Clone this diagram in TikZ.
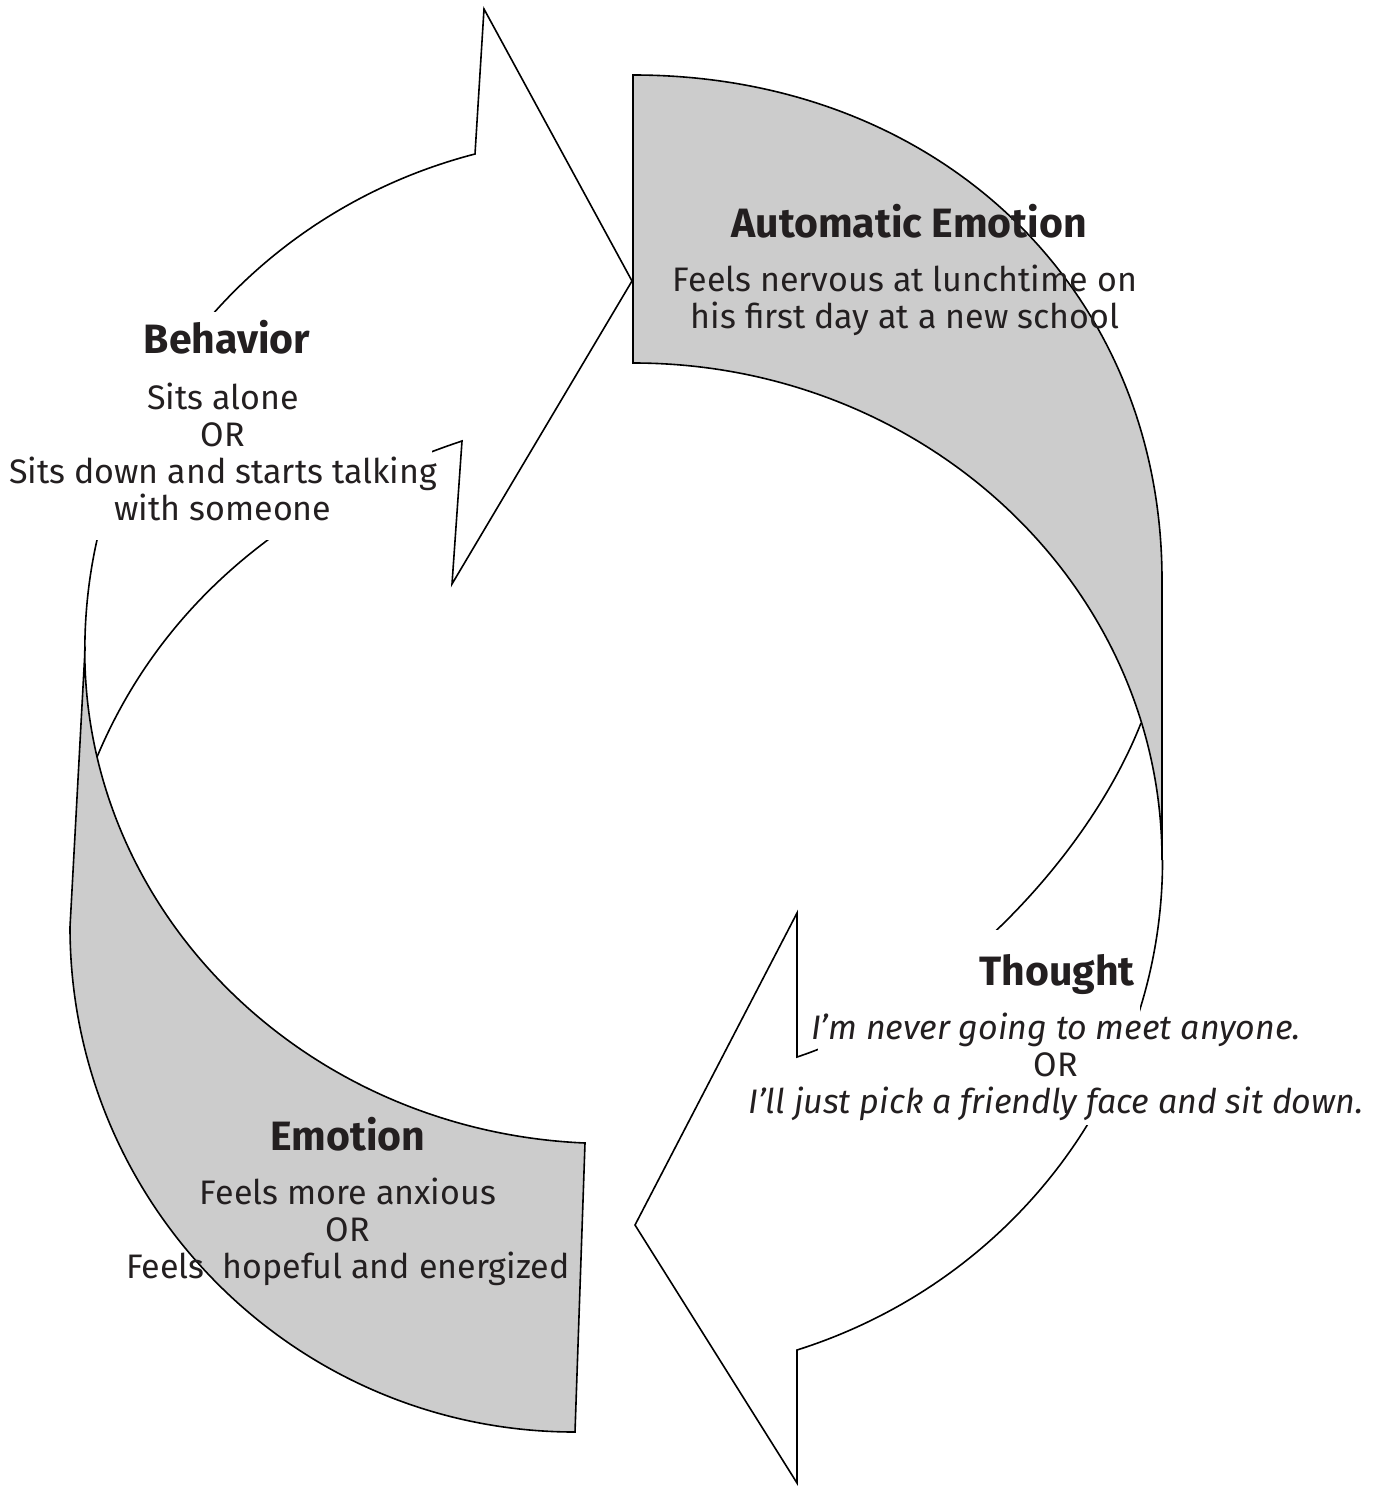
\documentclass[tikz,border=0pt]{standalone}
\usepackage{fontspec}
\setmainfont{Fira Sans}
\definecolor{ribbongray}{HTML}{CCCCCC}
\definecolor{inkblack}{HTML}{231F20}

\begin{document}
\begin{tikzpicture}[x=0.5pt,y=-0.5pt,line width=0.8pt,
    backface/.style={fill=ribbongray,draw=black},
    rim/.style={draw=black},
    cover/.style={fill=white,inner sep=0pt},
    heading/.style={font=\fontsize{20.5}{24}\selectfont\bfseries,text=inkblack,inner sep=0pt,anchor=base},
    body/.style={font=\fontsize{17}{18.5}\selectfont,text=inkblack,align=center,inner sep=0pt}]
    \useasboundingbox (0,0) rectangle (1384,1487);

    % back faces of the two ribbons
    \draw[backface] (633,75) .. controls (940,75) and (1162,290) .. (1162,580) -- (1162,860)
        arc[start angle=0,end angle=-90,x radius=529,y radius=497] -- cycle;
    \draw[backface] (85,650) -- (70,927) arc[start angle=180,end angle=90,radius=505]
        -- (585,1143) arc[start angle=92.6,end angle=180,x radius=524,y radius=493] -- cycle;

    % front faces with their heads
    \draw[rim] (1141,723) .. controls (1086,863) and (940,1010) .. (797,1057) -- (797,913)
        -- (635,1225) -- (797,1483) -- (797,1350) arc[start angle=72,end angle=0,x radius=529,y radius=515];
    \draw[rim] (97,757) .. controls (165,595) and (300,495) .. (462,441) -- (452,584)
        -- (632,281) -- (484,9) -- (475,154) arc[start angle=255.2,end angle=180,x radius=524,y radius=513];

    % text boxes
    \node[cover,minimum width=168pt,minimum height=114pt] (behaviorbox) at (264,426) {};
    \node[cover,minimum width=161pt,minimum height=97.5pt] (thoughtbox) at (979,1027) {};

    \node[heading] (autotitle) at (909,238) {Automatic Emotion};
    \node[body] (autotext) at (905,300) {Feels nervous at lunchtime on\\his first day at a new school};

    \node[heading] (thoughttitle) at (1057,985) {Thought};
    \node[body] (thoughttext) at (1056,1067) {\itshape I’m never going to meet anyone.\\OR\\\itshape I’ll just pick a friendly face and sit down.};

    \node[heading] (emotiontitle) at (348,1150) {Emotion};
    \node[body] (emotiontext) at (348,1232) {Feels more anxious\\OR\\Feels~ hopeful and energized};

    \node[heading] (behaviortitle) at (227,353) {Behavior};
    \node[body] (behaviortext) at (223,452) {Sits alone\\OR\\Sits down and starts talking\\with someone};
\end{tikzpicture}
\end{document}
